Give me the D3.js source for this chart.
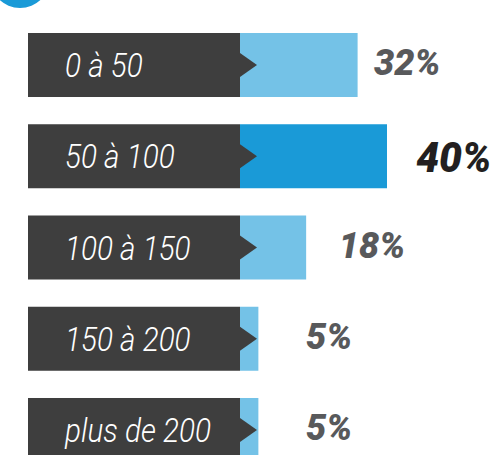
<!DOCTYPE html>
<html>
<head>
<meta charset="utf-8">
<script src="https://cdn.jsdelivr.net/npm/d3@7"></script>
<style>
  html, body { margin: 0; padding: 0; background: #fff; }
  svg { display: block; }
</style>
</head>
<body>
<svg id="chart"></svg>
<script>
// Chart data
const categories = ['0 à 50', '50 à 100', '100 à 150', '150 à 200', 'plus de 200'];
const values = [32, 40, 18, 5, 5];
const valueLabels = ['32%', '40%', '18%', '5%', '5%'];
const highlight = [false, true, false, false, false];

const width = 500, height = 455;
const svg = d3.select('#chart').attr('width', width).attr('height', height);

// Colors
const darkBox = '#3e3e3e';
const lightBlue = '#74c2e7';
const strongBlue = '#1a9ad7';

// Decorative circle peeking in at the top left
svg.append('circle')
    .attr('cx', 20)
    .attr('cy', -22)
    .attr('r', 30)
    .attr('fill', strongBlue);

// Scales
const y = d3.scaleBand()
    .domain(categories)
    .range([33, 462])
    .paddingInner(0.2986)
    .paddingOuter(0);

const x = d3.scaleLinear()
    .domain([0, 40])
    .range([240, 387]);

// Where the percentage label starts, grows with the value
const labelX = d3.scaleLinear()
    .domain([5, 32])
    .range([306, 374]);

const rows = svg.selectAll('g.row')
    .data(categories.map((c, i) => ({ cat: c, value: values[i], label: valueLabels[i], hi: highlight[i] })))
    .join('g')
    .attr('class', 'row')
    .attr('transform', d => `translate(0,${y(d.cat)})`);

const bh = y.bandwidth();

// Blue value bar
rows.append('rect')
    .attr('x', x(0))
    .attr('y', 0)
    .attr('width', d => x(d.value) - x(0))
    .attr('height', bh)
    .attr('fill', d => d.hi ? strongBlue : lightBlue);

// Dark label box
rows.append('rect')
    .attr('x', 28)
    .attr('y', 0)
    .attr('width', x(0) - 28)
    .attr('height', bh)
    .attr('fill', darkBox);

// Arrow tip pointing into the bar
rows.append('path')
    .attr('d', `M${x(0)},${bh / 2 - 12}L${x(0) + 17},${bh / 2}L${x(0)},${bh / 2 + 12}Z`)
    .attr('fill', darkBox);

// Category text (light, slightly condensed)
rows.append('text')
    .attr('transform', `translate(65,${bh / 2 + 12}) scale(0.9,1)`)
    .style('font-family', 'Roboto, sans-serif')
    .style('font-style', 'italic')
    .style('font-weight', '300')
    .style('font-size', '33px')
    .style('fill', '#fff')
    .text(d => d.cat);

// Percentage text
rows.append('text')
    .attr('transform', d => d.hi
        ? `translate(${labelX(d.value) + 22},${bh / 2 + 16}) scale(0.95,1)`
        : `translate(${labelX(d.value)},${bh / 2 + 10})`)
    .style('font-family', 'Roboto, sans-serif')
    .style('font-style', 'italic')
    .style('font-weight', '900')
    .style('font-size', d => d.hi ? '43px' : '36px')
    .style('fill', d => d.hi ? '#231f20' : '#58595b')
    .text(d => d.label);
</script>
</body>
</html>
